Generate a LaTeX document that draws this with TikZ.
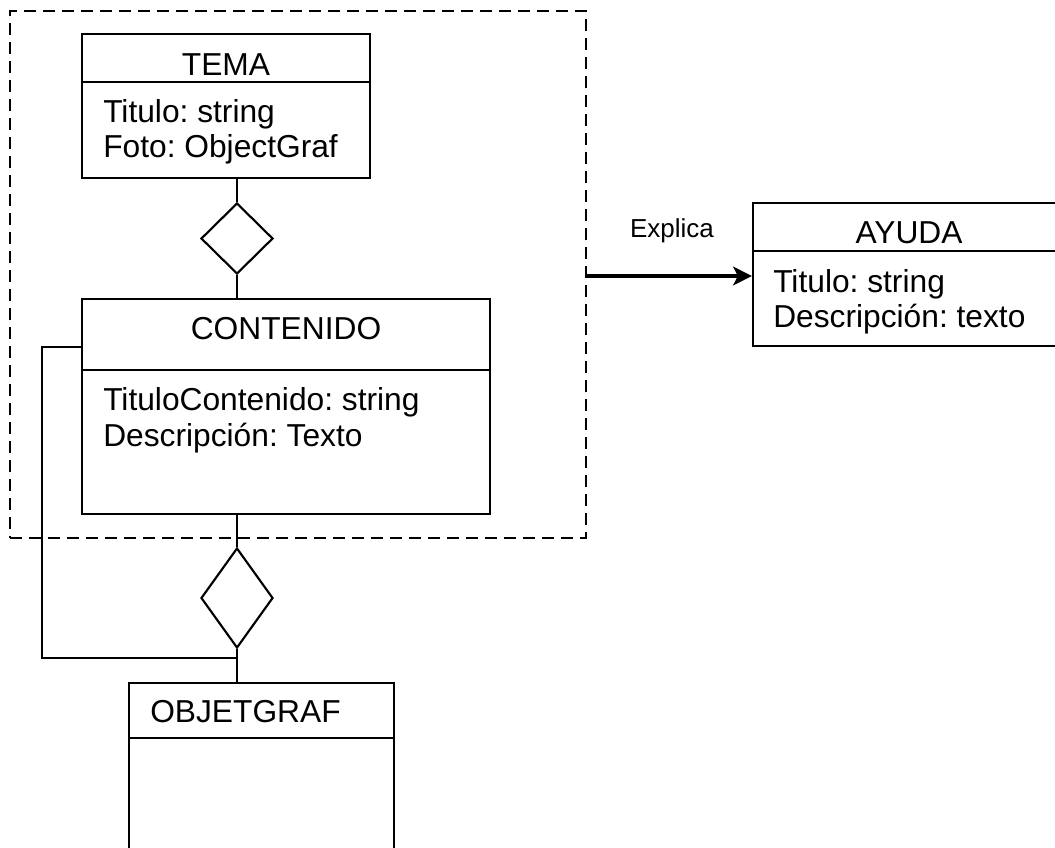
\documentclass[tikz,border=0pt]{standalone}
\usepackage{fontspec}
\setmainfont{Liberation Sans}
\usetikzlibrary{shapes.geometric,fit,arrows.meta}
\frenchspacing
\begin{document}
\begin{tikzpicture}[x=0.75pt,y=-0.75pt,
  box/.style={draw, rectangle, line width=1.7pt, inner sep=0pt},
  group/.style={draw, rectangle, line width=1.6pt, inner sep=0pt,
    dash pattern=on 9pt off 5.25pt},
  rel/.style={draw, diamond, line width=1.6pt, inner sep=0pt, minimum width=54pt},
  link/.style={line width=1.6pt},
  assoc/.style={line width=3pt, -{Stealth[length=14pt, width=14pt, inset=3.5pt]}},
  title/.style={inner sep=0pt, anchor=base, font=\fontsize{23.8}{26.25}\selectfont},
  attr/.style={inner sep=0pt, anchor=base west,
    font=\fontsize{23.8}{26.25}\selectfont},
  label/.style={inner sep=0pt, anchor=base, font=\fontsize{19.5}{22}\selectfont}
]
\useasboundingbox (0,0) rectangle (1055,847);
\clip (0,0) rectangle (1055,847);

% package frame
\node[group, fit={(10,11) (586,538)}] (grp) {};

% TEMA
\node[box, fit={(82,34) (370,82)}] (temaH) {};
\node[box, fit={(82,82) (370,178)}] (temaB) {};
\node[title] (temaT) at (226,75) {TEMA};
\node[attr] (temaA1) at (103,122) {Titulo: string};
\node[attr] (temaA2) at (103,157) {Foto: ObjectGraf};

% CONTENIDO
\node[box, fit={(82,299) (490,370)}] (conH) {};
\node[box, fit={(82,370) (490,514)}] (conB) {};
\node[title] (conT) at (286,339) {CONTENIDO};
\node[attr] (conA1) at (103,410) {TituloContenido: string};
\node[attr] (conA2) at (103,446) {Descripción: Texto};

% OBJETGRAF
\node[box, fit={(129,683) (394,738)}] (objH) {};
\node[box, fit={(129,738) (394,880)}] (objB) {};
\node[attr] (objT) at (150,722) {OBJETGRAF};

% AYUDA
\node[box, fit={(753,203) (1068,251)}] (ayH) {};
\node[box, fit={(753,251) (1068,346)}] (ayB) {};
\node[title] (ayT) at (909,243) {AYUDA};
\node[attr] (ayA1) at (773,292) {Titulo: string};
\node[attr] (ayA2) at (773,327) {Descripción: texto};

% aggregation diamonds
\node[rel, minimum height=53.25pt] (d1) at (237,238.5) {};
\node[rel, minimum height=75pt] (d2) at (237,598) {};

% connectors
\draw[link] (d1.north) -- (d1.north |- temaB.south);
\draw[link] (d1.south) -- (d1.south |- conH.north);
\draw[link] (d2.north) -- (d2.north |- conB.south);
\draw[link] (d2.south) -- (d2.south |- objH.north);
\coordinate (lc) at (42,347);
\coordinate (lj) at (237,658);
\draw[link] (conH.west |- lc) -- (lc) |- (lj);

% association
\coordinate (ar) at (0,276);
\draw[assoc] (grp.east |- ar) -- (ayB.west |- ar);
\node[label] (expl) at (672,237) {Explica};
\end{tikzpicture}
\end{document}
